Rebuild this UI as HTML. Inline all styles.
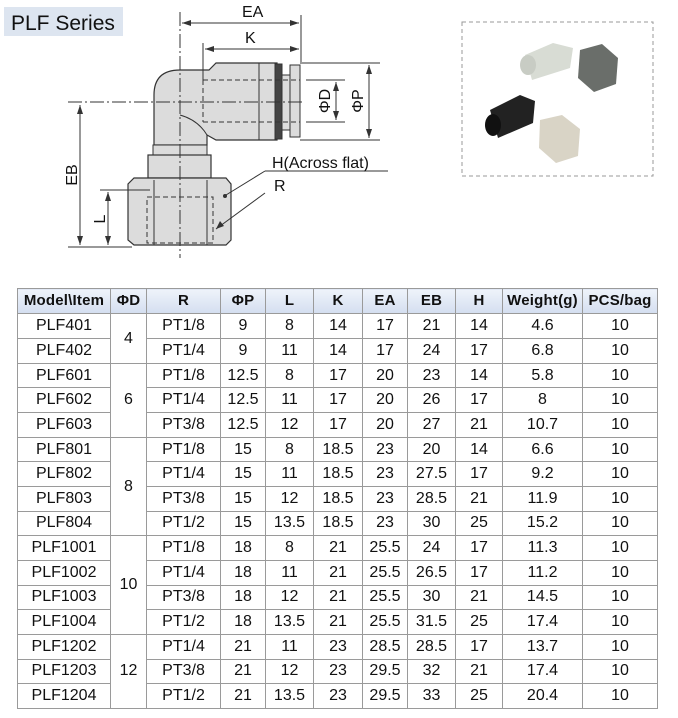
<!DOCTYPE html>
<html><head><meta charset="utf-8"><style>
body{margin:0;width:678px;height:718px;background:#fff;position:relative;overflow:hidden;font-family:"Liberation Sans",Arial,sans-serif}
table{position:absolute;left:17px;top:288px;border-collapse:collapse;table-layout:fixed;height:421px}
td,th{border:1px solid #9a9a9a;text-align:center;padding:0;font-size:16px;color:#111;line-height:18px}
tr{height:23.3px}
tr.h{height:24px}
th{background:linear-gradient(#eef3fa,#d4def0);font-family:"Liberation Sans Narrow","Liberation Sans",sans-serif;font-weight:bold;font-size:15px;letter-spacing:0.2px}
</style></head><body>
<svg width="678" height="285" style="position:absolute;left:0;top:0" font-family="Liberation Sans,Arial,sans-serif">
<rect x="4" y="7" width="119" height="29" fill="#dde5f0"/>
<text x="11" y="30" font-size="21" fill="#111">PLF Series</text>
<g stroke="#333" stroke-width="1" fill="#dcdcdc">
<path d="M180 70 L209 70 L216 63 L277 63 L277 140 L216 140 L207 135 L207 145 L154 145 L154 95 Q154 70 180 70 Z" stroke-width="1.2"/>
<path d="M180 115 Q198 120 207 135" fill="none"/>
<line x1="259" y1="63" x2="259" y2="140"/>
<rect x="275" y="64" width="7" height="75" fill="#444"/>
<rect x="282" y="75" width="8" height="55" fill="#ddd"/>
<rect x="290" y="65" width="10" height="72"/>
<rect x="153" y="145" width="54" height="10"/>
<rect x="148" y="155" width="63" height="23" stroke-width="1.2"/>
<path d="M134 178 L226 178 L231 184 L231 240 L226 245 L134 245 L128 240 L128 184 Z" stroke-width="1.2"/>
<line x1="154" y1="180" x2="154" y2="245"/><line x1="207" y1="180" x2="207" y2="245"/>
</g>
<g stroke="#333" stroke-width="1" fill="none" stroke-dasharray="5,3">
<rect x="147" y="197" width="66" height="46"/>
<line x1="203" y1="80" x2="300" y2="80"/><line x1="203" y1="122" x2="300" y2="122"/>
<line x1="203" y1="80" x2="203" y2="122"/>
</g>
<g stroke="#333" stroke-width="1" fill="none">
<line x1="180" y1="12" x2="180" y2="258" stroke-dasharray="14,3,2,3"/>
<line x1="68" y1="102" x2="302" y2="102" stroke-dasharray="14,3,2,3"/>
<line x1="301" y1="15" x2="301" y2="62"/><line x1="203" y1="43" x2="203" y2="80"/>
<line x1="182" y1="23" x2="299" y2="23"/><line x1="205" y1="49" x2="299" y2="49"/>
<line x1="300" y1="63" x2="380" y2="63"/><line x1="300" y1="140" x2="380" y2="140"/>
<line x1="306" y1="80" x2="345" y2="80"/><line x1="306" y1="122" x2="345" y2="122"/>
<line x1="336" y1="82" x2="336" y2="120"/><line x1="369" y1="65" x2="369" y2="138"/>
<line x1="68" y1="247" x2="132" y2="247"/><line x1="100" y1="190" x2="150" y2="190"/>
<line x1="80" y1="105" x2="80" y2="245"/><line x1="108" y1="192" x2="108" y2="245"/>
<line x1="265" y1="171" x2="388" y2="171"/><line x1="265" y1="171" x2="226" y2="195"/>
<line x1="265" y1="193" x2="216" y2="229"/>
</g>
<g fill="#333">
<path d="M182 23 l9 -3 v6z"/><path d="M299 23 l-9 -3 v6z"/>
<path d="M205 49 l9 -3 v6z"/><path d="M299 49 l-9 -3 v6z"/>
<path d="M336 82 l-3 9 h6z"/><path d="M336 120 l-3 -9 h6z"/>
<path d="M369 65 l-3 9 h6z"/><path d="M369 138 l-3 -9 h6z"/>
<path d="M80 105 l-3 9 h6z"/><path d="M80 245 l-3 -9 h6z"/>
<path d="M108 192 l-3 9 h6z"/><path d="M108 245 l-3 -9 h6z"/>
<circle cx="225" cy="196" r="2"/><path d="M216 229 l4 -8 l4 5z"/>
</g>
<g font-size="16" fill="#111">
<text x="242" y="17">EA</text><text x="245" y="43">K</text>
<text x="272" y="168">H(Across flat)</text><text x="274" y="191">R</text>
<text transform="translate(330,101) rotate(-90)" text-anchor="middle">ΦD</text>
<text transform="translate(363,101) rotate(-90)" text-anchor="middle">ΦP</text>
<text transform="translate(77,175) rotate(-90)" text-anchor="middle">EB</text>
<text transform="translate(105,219) rotate(-90)" text-anchor="middle">L</text>
</g>
<rect x="462" y="22" width="191" height="154" fill="none" stroke="#999" stroke-dasharray="4,3"/>
<g stroke="none">
<path d="M525 55 l28 -12 l20 5 l-3 20 l-38 12 z" fill="#d8dcd4"/>
<ellipse cx="528" cy="65" rx="8" ry="10" fill="#c8ccc4"/>
<path d="M580 50 l22 -6 l16 14 l-2 26 l-22 8 l-16 -14z" fill="#6a6e6a"/>
<path d="M490 110 l30 -15 l15 6 l-2 22 l-35 15 z" fill="#222"/>
<ellipse cx="493" cy="125" rx="8" ry="11" fill="#111"/>
<path d="M540 120 l22 -5 l18 14 l-2 27 l-22 7 l-17 -15z" fill="#d9d4c6"/>
</g>
</svg>
<table>
<colgroup><col style="width:93px"><col style="width:36px"><col style="width:74px"><col style="width:45px"><col style="width:48px"><col style="width:49px"><col style="width:45px"><col style="width:48px"><col style="width:47px"><col style="width:80px"><col style="width:75px"></colgroup>
<tr class="h"><th>Model\Item</th><th>ΦD</th><th>R</th><th>ΦP</th><th>L</th><th>K</th><th>EA</th><th>EB</th><th>H</th><th>Weight(g)</th><th>PCS/bag</th></tr>
<tr><td>PLF401</td><td rowspan="2">4</td><td>PT1/8</td><td>9</td><td>8</td><td>14</td><td>17</td><td>21</td><td>14</td><td>4.6</td><td>10</td></tr>
<tr><td>PLF402</td><td>PT1/4</td><td>9</td><td>11</td><td>14</td><td>17</td><td>24</td><td>17</td><td>6.8</td><td>10</td></tr>
<tr><td>PLF601</td><td rowspan="3">6</td><td>PT1/8</td><td>12.5</td><td>8</td><td>17</td><td>20</td><td>23</td><td>14</td><td>5.8</td><td>10</td></tr>
<tr><td>PLF602</td><td>PT1/4</td><td>12.5</td><td>11</td><td>17</td><td>20</td><td>26</td><td>17</td><td>8</td><td>10</td></tr>
<tr><td>PLF603</td><td>PT3/8</td><td>12.5</td><td>12</td><td>17</td><td>20</td><td>27</td><td>21</td><td>10.7</td><td>10</td></tr>
<tr><td>PLF801</td><td rowspan="4">8</td><td>PT1/8</td><td>15</td><td>8</td><td>18.5</td><td>23</td><td>20</td><td>14</td><td>6.6</td><td>10</td></tr>
<tr><td>PLF802</td><td>PT1/4</td><td>15</td><td>11</td><td>18.5</td><td>23</td><td>27.5</td><td>17</td><td>9.2</td><td>10</td></tr>
<tr><td>PLF803</td><td>PT3/8</td><td>15</td><td>12</td><td>18.5</td><td>23</td><td>28.5</td><td>21</td><td>11.9</td><td>10</td></tr>
<tr><td>PLF804</td><td>PT1/2</td><td>15</td><td>13.5</td><td>18.5</td><td>23</td><td>30</td><td>25</td><td>15.2</td><td>10</td></tr>
<tr><td>PLF1001</td><td rowspan="4">10</td><td>PT1/8</td><td>18</td><td>8</td><td>21</td><td>25.5</td><td>24</td><td>17</td><td>11.3</td><td>10</td></tr>
<tr><td>PLF1002</td><td>PT1/4</td><td>18</td><td>11</td><td>21</td><td>25.5</td><td>26.5</td><td>17</td><td>11.2</td><td>10</td></tr>
<tr><td>PLF1003</td><td>PT3/8</td><td>18</td><td>12</td><td>21</td><td>25.5</td><td>30</td><td>21</td><td>14.5</td><td>10</td></tr>
<tr><td>PLF1004</td><td>PT1/2</td><td>18</td><td>13.5</td><td>21</td><td>25.5</td><td>31.5</td><td>25</td><td>17.4</td><td>10</td></tr>
<tr><td>PLF1202</td><td rowspan="3">12</td><td>PT1/4</td><td>21</td><td>11</td><td>23</td><td>28.5</td><td>28.5</td><td>17</td><td>13.7</td><td>10</td></tr>
<tr><td>PLF1203</td><td>PT3/8</td><td>21</td><td>12</td><td>23</td><td>29.5</td><td>32</td><td>21</td><td>17.4</td><td>10</td></tr>
<tr><td>PLF1204</td><td>PT1/2</td><td>21</td><td>13.5</td><td>23</td><td>29.5</td><td>33</td><td>25</td><td>20.4</td><td>10</td></tr>
</table>
</body></html>
